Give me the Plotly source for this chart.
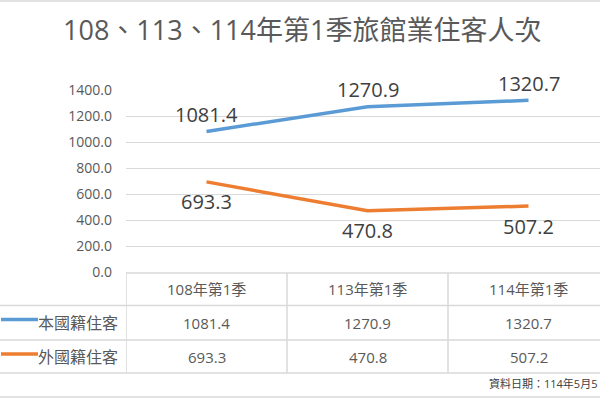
import plotly.graph_objects as go

# ---- data ----
title_text = "108、113、114年第1季旅館業住客人次"
categories = ["108年第1季", "113年第1季", "114年第1季"]
series_names = ["本國籍住客", "外國籍住客"]
domestic = [1081.4, 1270.9, 1320.7]
foreign = [693.3, 470.8, 507.2]
y_ticks = [0, 200, 400, 600, 800, 1000, 1200, 1400]
source_note = "資料日期：114年5月5"

# ---- geometry (pixels) ----
W, H = 600, 400
L, R, T, B = 126, 0, 90, 128
PW, PH = W - L - R, H - T - B
COL_W = 161

def px(x):
    return (x - L) / PW

def py(y):
    return (H - B - y) / PH

FONT = "Open Sans, Noto Sans CJK TC, sans-serif"
GRID = "#D9D9D9"
TXT = "#595959"
colors = ["#5B9BD5", "#ED7D31"]
all_series = [domestic, foreign]

fig = go.Figure()
for name, vals, col in zip(series_names, all_series, colors):
    fig.add_trace(go.Scatter(x=categories, y=vals, mode="lines", name=name,
                             line=dict(color=col, width=3.5), showlegend=False,
                             hoverinfo="skip"))

annotations = []
shapes = []

def ann(**kw):
    base = dict(showarrow=False, xanchor="center", yanchor="middle")
    base.update(kw)
    annotations.append(base)

# data labels
shifts = [17, -20]
for vals, ys in zip(all_series, shifts):
    for c, v in zip(categories, vals):
        ann(x=c, y=v, xref="x", yref="y", text=f"{v:.1f}", yshift=ys,
            font=dict(size=20, color="#404040", family=FONT))

# title
ann(x=px(302), y=py(29), xref="paper", yref="paper", text=title_text,
    font=dict(size=27, color=TXT, family=FONT))

# table rows
row_lines = [273, 305.5, 340, 373]
row_centers = [289, 322.5, 357]
for c in categories:
    ann(x=c, y=py(row_centers[0]), xref="x", yref="paper", text=c,
        font=dict(size=15, color=TXT, family=FONT))
for r, (name, vals, col) in enumerate(zip(series_names, all_series, colors)):
    yc = row_centers[r + 1]
    for c, v in zip(categories, vals):
        ann(x=c, y=py(yc), xref="x", yref="paper", text=f"{v:.1f}",
            font=dict(size=15, color=TXT, family=FONT))
    ann(x=px(120), y=py(yc), xref="paper", yref="paper", text=name, xanchor="right",
        font=dict(size=16, color=TXT, family=FONT))
    shapes.append(dict(type="line", xref="paper", yref="paper", x0=px(1), x1=px(38),
                       y0=py(yc - 3), y1=py(yc - 3), layer="above",
                       line=dict(color=col, width=3.5)))

# horizontal table lines
shapes.append(dict(type="line", xref="paper", yref="paper", x0=px(126), x1=px(610),
                   y0=py(row_lines[0]), y1=py(row_lines[0]), layer="above",
                   line=dict(color=GRID, width=1.5)))
for yl in row_lines[1:]:
    shapes.append(dict(type="line", xref="paper", yref="paper", x0=px(0), x1=px(610),
                       y0=py(yl), y1=py(yl), layer="above",
                       line=dict(color=GRID, width=1.5)))
# vertical table lines at category boundaries
for i in range(len(categories)):
    shapes.append(dict(type="line", xref="x", yref="paper", x0=i - 0.5, x1=i - 0.5,
                       y0=py(row_lines[0]), y1=py(row_lines[-1]), layer="above",
                       line=dict(color=GRID, width=1.5)))

# outer chart border (top/bottom visible)
for yl in [1, 397]:
    shapes.append(dict(type="line", xref="paper", yref="paper", x0=px(0), x1=px(600),
                       y0=py(yl), y1=py(yl), layer="above",
                       line=dict(color=GRID, width=1.5)))

# source note
ann(x=px(599), y=py(383), xref="paper", yref="paper", text=source_note, xanchor="right",
    font=dict(size=11, color="#404040", family=FONT))

fig.update_layout(
    width=W, height=H,
    margin=dict(l=L, r=R, t=T, b=B, pad=0),
    paper_bgcolor="white", plot_bgcolor="white",
    font=dict(family=FONT, color=TXT),
    annotations=annotations, shapes=shapes,
    xaxis=dict(type="category", range=[-0.5, -0.5 + PW / COL_W], showgrid=False,
               showticklabels=False, showline=False, zeroline=False, fixedrange=True),
    yaxis=dict(range=[0, 1400], tickvals=y_ticks, tickformat=".1f", showgrid=True,
               gridcolor=GRID, gridwidth=1, zeroline=False, showline=False,
               ticks="", ticklabelstandoff=13, automargin=False,
               tickfont=dict(size=14, color=TXT, family=FONT), fixedrange=True),
)

fig.write_html("out.html", config={"displayModeBar": False},
               post_script="document.body.style.margin='0';document.body.style.overflow='hidden';")
